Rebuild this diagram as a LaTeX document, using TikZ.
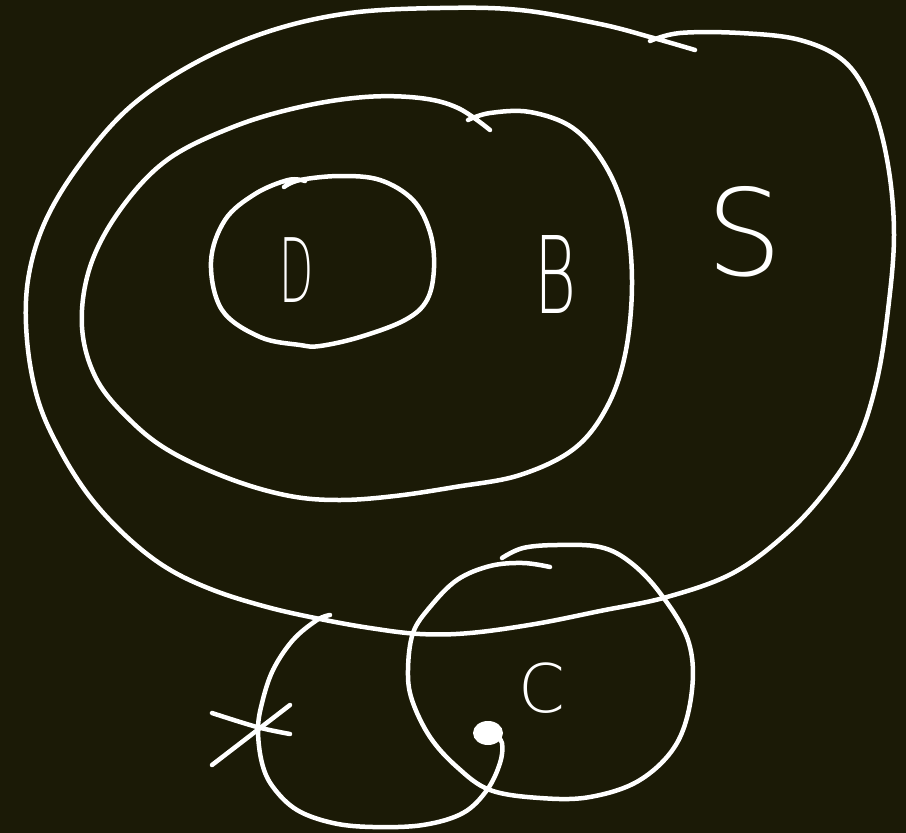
\documentclass[tikz,border=0pt]{standalone}
\usepackage{fontspec}
\newfontfamily\hand{DejaVu Sans ExtraLight}
\definecolor{board}{RGB}{27,26,6}
\begin{document}
\begin{tikzpicture}[line cap=round,line join=round,x=1pt,y=-1pt]
	\tikzset{chalk/.style={draw=white,line width=4.5pt},
		lbl/.style={text=white,inner sep=0pt,font=\hand},
		smooth,tension=.6
	}
	\fill[board] (0,0) rectangle (906,833);
	\useasboundingbox (0,0) rectangle (906,833);
	\draw[chalk] plot coordinates {(650,41) (680,33) (740,33) (800,40) (845,62) (872,105) (888,165) (894,235) (888,310) (877,380) (858,440) (828,488) (787,533) (733,573) (667,597) (600,611) (535,624) (470,633) (420,634) (370,628) (320,619) (267,607) (213,590) (167,568) (127,537) (90,497) (60,450) (38,400) (27,340) (28,280) (45,222) (80,164) (130,107) (195,63) (270,31) (350,13) (440,8) (520,10) (600,24) (650,37) (695,50)};
	\draw[chalk] plot coordinates {(468,120) (490,113) (530,112) (573,128) (605,165) (625,215) (632,280) (626,350) (608,405) (575,448) (520,475) (455,487) (395,496) (340,500) (290,496) (233,480) (173,453) (133,423) (97,380) (82,327) (90,267) (120,210) (167,160) (233,127) (300,107) (365,97) (420,98) (458,108) (490,130)};
	\draw[chalk] plot coordinates {(284,187) (300,180) (340,176) (380,180) (413,200) (430,232) (434,268) (427,300) (405,320) (360,337) (320,346) (300,345) (260,337) (222,310) (211,262) (225,220) (255,194) (288,180) (305,181)};
	\draw[chalk] plot coordinates {(550,567) (523,563) (490,566) (457,580) (430,607) (413,633) (408,670) (412,700) (430,737) (457,767) (490,790) (540,798) (590,797) (640,780) (677,743) (692,690) (688,640) (660,593) (630,562) (600,547) (557,545) (523,548) (502,558)};
	\draw[chalk] plot coordinates {(330,615) (317,620) (293,640) (273,670) (262,703) (258,730) (262,763) (273,787) (297,810) (333,823) (373,827) (423,825) (463,813) (487,790) (500,763) (502,743) (495,735)};
	\fill[white] (488,733) ellipse [x radius=15pt,y radius=12pt];
	\draw[chalk] plot coordinates {(212,713) (257,727) (290,734)};
	\draw[chalk] (212,765) -- (290,705);
	\node[lbl] (D) at (297,270) {\fontsize{89}{89}\selectfont\scalebox{.5}[1]{D}};
	\node[lbl] (B) at (556,274) {\fontsize{107}{107}\selectfont\scalebox{.6}[1]{B}};
	\node[lbl] (S) at (745,232) {\fontsize{120}{120}\selectfont S};
	\node[lbl] (C) at (542,688) {\fontsize{67}{67}\selectfont C};
\end{tikzpicture}
\end{document}
